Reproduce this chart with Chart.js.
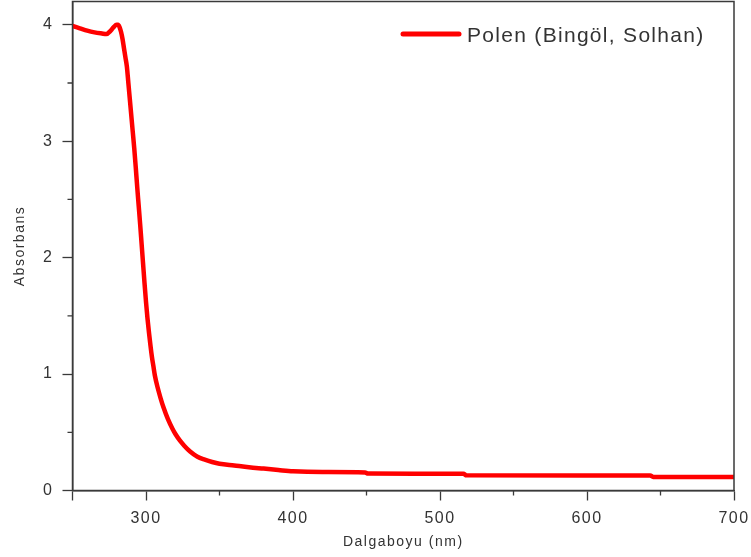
<!DOCTYPE html>
<html>
<head>
    <title>Polen Absorbans</title>
    <script src="https://cdn.jsdelivr.net/npm/chart.js"></script>
    <style>
        body { margin: 0; background: #fff; }
    </style>
</head>
<body>
<canvas id="myChart" width="751" height="557"></canvas>
<script>
    var wavelength = [250, 255, 260, 265, 270, 273, 276, 278, 280, 281, 282, 283, 284, 285, 286, 287, 288, 289, 290,
        291, 292, 293, 294, 295, 296, 297, 298, 299, 300, 301, 302, 303, 304, 305, 306, 308, 310, 312, 315,
        318, 320, 323, 326, 330, 335, 340, 345, 350, 360, 370, 380, 390, 400, 420, 449, 451, 516, 518, 643, 645, 700];
    var absorbance = [3.99, 3.97, 3.95, 3.935, 3.925, 3.92, 3.95, 3.98, 4.00, 4.00, 3.98, 3.94, 3.88, 3.80, 3.72, 3.64, 3.50, 3.36, 3.22,
        3.08, 2.94, 2.78, 2.61, 2.45, 2.29, 2.12, 1.95, 1.78, 1.62, 1.48, 1.36, 1.25, 1.15, 1.07, 0.99, 0.88, 0.79, 0.71, 0.61,
        0.53, 0.485, 0.43, 0.385, 0.335, 0.29, 0.265, 0.245, 0.23, 0.215, 0.2, 0.188, 0.176, 0.165, 0.158, 0.155, 0.145, 0.143, 0.13, 0.129, 0.117, 0.115];
    var xTickLabels = [300, 400, 500, 600, 700];
    var yTickLabels = [0, 1, 2, 3, 4];
    var seriesName = 'Polen (Bingöl, Solhan)';

    var points = wavelength.map(function (w, i) { return {x: w, y: absorbance[i]}; });
    var axisColor = '#3a3a3a';
    var fontFamily = "'Liberation Sans', Arial, sans-serif";

    // box around plot, minor ticks, legend
    var framePlugin = {
        id: 'frame',
        beforeDraw: function (chart) {
            chart.ctx.letterSpacing = '1.5px';
        },
        afterDraw: function (chart) {
            var ctx = chart.ctx, a = chart.chartArea;
            ctx.save();
            ctx.strokeStyle = axisColor;
            ctx.lineWidth = 1.5;
            ctx.strokeRect(a.left, a.top, a.right - a.left, a.bottom - a.top);
            ctx.lineWidth = 1.3;
            ctx.beginPath();
            chart.scales.x.ticks.forEach(function (t) {
                if (t.value % 100 !== 0 && t.value !== 250) {
                    var px = chart.scales.x.getPixelForValue(t.value);
                    ctx.moveTo(px, a.bottom);
                    ctx.lineTo(px, a.bottom + 5);
                }
            });
            chart.scales.y.ticks.forEach(function (t) {
                if (t.value % 1 !== 0) {
                    var py = chart.scales.y.getPixelForValue(t.value);
                    ctx.moveTo(a.left, py);
                    ctx.lineTo(a.left - 5, py);
                }
            });
            ctx.stroke();

            // legend
            ctx.letterSpacing = '1.3px';
            ctx.strokeStyle = 'red';
            ctx.lineWidth = 5;
            ctx.lineCap = 'round';
            ctx.beginPath();
            ctx.moveTo(403, 34);
            ctx.lineTo(459, 34);
            ctx.stroke();
            ctx.fillStyle = '#333';
            ctx.font = '21px ' + fontFamily;
            ctx.textBaseline = 'middle';
            ctx.fillText(chart.data.datasets[0].label, 467, 36);
            ctx.restore();
        }
    };

    var ctx = document.getElementById('myChart').getContext('2d');
    var chart = new Chart(ctx, {
        type: 'line',
        data: {
            datasets: [{
                label: seriesName,
                data: points,
                borderColor: '#ff0000',
                borderWidth: 4.5,
                pointRadius: 0,
                cubicInterpolationMode: 'monotone',
                fill: false
            }]
        },
        options: {
            responsive: false,
            animation: false,
            layout: {padding: {left: 0, right: 17, top: 1.5, bottom: 0}},
            plugins: {
                legend: {display: false},
                tooltip: {enabled: false}
            },
            scales: {
                x: {
                    type: 'linear',
                    min: 250,
                    max: 700,
                    afterFit: function (s) {
                        s.height = 66.5;
                        s.paddingLeft = 0;
                        s.paddingRight = 0;
                    },
                    border: {display: true, color: axisColor, width: 1.5},
                    grid: {
                        drawOnChartArea: false,
                        tickLength: 10,
                        tickWidth: 1.3,
                        color: function (c) {
                            var v = c.tick ? c.tick.value : 0;
                            return (v % 100 === 0 || v === 250) ? axisColor : 'transparent';
                        }
                    },
                    ticks: {
                        stepSize: 50,
                        maxRotation: 0,
                        autoSkip: false,
                        padding: 8,
                        color: '#333',
                        font: {family: fontFamily, size: 16},
                        callback: function (v) { return xTickLabels.indexOf(v) >= 0 ? String(v) : ''; }
                    },
                    title: {
                        display: true,
                        text: 'Dalgaboyu (nm)',
                        color: '#333',
                        font: {family: fontFamily, size: 14},
                        padding: {top: 2, bottom: 6}
                    }
                },
                y: {
                    min: 0,
                    max: 4.2,
                    afterFit: function (s) {
                        s.width = 72.5;
                        s.paddingTop = 0;
                        s.paddingBottom = 0;
                    },
                    border: {display: true, color: axisColor, width: 1.5},
                    grid: {
                        drawOnChartArea: false,
                        tickLength: 10,
                        tickWidth: 1.3,
                        color: function (c) {
                            var v = c.tick ? c.tick.value : 0;
                            return v % 1 === 0 ? axisColor : 'transparent';
                        }
                    },
                    ticks: {
                        stepSize: 0.5,
                        includeBounds: false,
                        autoSkip: false,
                        padding: 9,
                        color: '#333',
                        font: {family: fontFamily, size: 16},
                        callback: function (v) { return yTickLabels.indexOf(v) >= 0 ? String(v) : ''; }
                    },
                    title: {
                        display: true,
                        text: 'Absorbans',
                        color: '#333',
                        font: {family: fontFamily, size: 14},
                        padding: {top: 12, bottom: 0}
                    }
                }
            }
        },
        plugins: [framePlugin]
    });
</script>
</body>
</html>
